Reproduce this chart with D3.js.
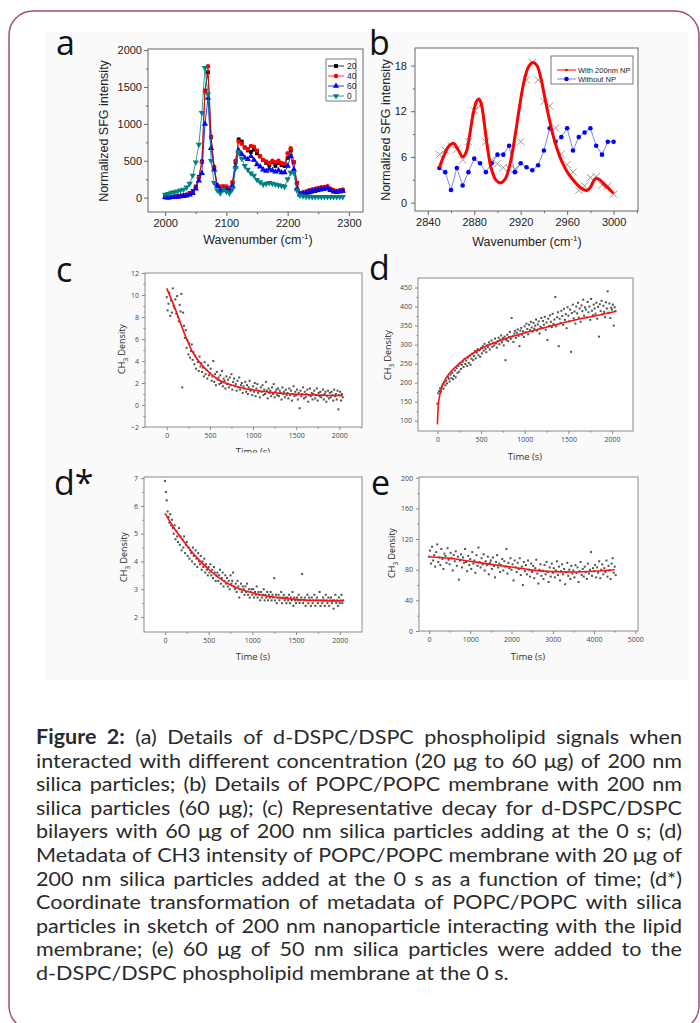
<!DOCTYPE html>
<html>
<head>
<meta charset="utf-8">
<script src="https://cdn.jsdelivr.net/npm/d3@7"></script>
<style>
  body { margin: 0; background: #fff; }
  #wrap { width: 700px; height: 1023px; overflow: hidden; }
</style>
</head>
<body>
<div id="wrap"></div>
<script>
// ---- panel a: SFG spectra, 2000-2290 cm-1 every 5 cm-1
var wnA = d3.range(2000, 2291, 5);
var spec20 = [10,5,10,15,20,25,30,40,60,90,150,280,490,1450,1700,820,400,160,140,150,140,120,200,480,790,760,680,640,620,650,600,560,510,470,440,480,430,470,440,430,540,640,480,200,60,50,60,70,80,90,100,110,120,130,110,90,80,90,95];
var spec40 = [0,0,5,10,15,20,25,35,50,80,140,270,480,1440,1780,830,420,170,150,150,150,130,210,500,760,730,680,660,700,690,640,560,510,490,470,500,480,500,470,460,600,670,480,190,50,70,80,100,110,120,130,140,145,155,120,100,90,100,105];
var spec60 = [5,0,5,10,10,15,20,25,40,60,120,230,330,1000,1350,670,380,160,100,100,110,90,160,420,640,590,540,520,560,510,450,420,380,360,390,370,350,370,340,340,430,560,380,120,40,60,70,80,90,100,110,115,120,125,100,80,75,80,90];
var spec0 = [40,50,70,75,85,100,110,140,190,300,480,720,1150,1760,1400,500,200,100,60,110,80,60,120,400,620,530,430,380,330,300,240,210,180,190,200,190,180,170,160,150,250,340,340,100,30,20,15,15,10,10,10,10,10,10,10,10,10,10,10];
var seriesA = ["20", "40", "60", "0"];

// ---- panel b: 2850-3000 cm-1 every 5 cm-1
var wnB = d3.range(2850, 3001, 5);
var withNP = [6.3,6.9,7.5,7.0,5.6,8.0,12.1,12.7,8.0,5.6,5.1,4.6,4.5,4.4,8.0,16.1,18.4,16.1,13.3,12.7,9.8,6.4,5.0,4.0,1.6,2.2,3.3,3.4,2.3,2.2,1.1];
var withoutNP = [4.55,4.0,1.65,4.55,2.25,4.0,5.77,5.16,4.0,5.16,6.3,6.3,7.46,4.0,5.16,4.64,4.25,4.9,6.85,9.76,8.0,8.6,9.76,6.85,8.6,9.2,9.76,7.46,6.3,8.0,8.0];
var fitBx = [2850,2854,2858,2862,2866,2870,2873,2876,2879,2882,2884,2886,2889,2892,2895,2899,2903,2907,2911,2915,2919,2923,2927,2931,2934,2937,2941,2945,2949,2953,2957,2961,2965,2969,2973,2977,2980,2983,2985,2988,2992,2996,3000];
var fitBy = [4.6,6.2,7.4,7.8,7.0,6.0,6.6,8.8,11.6,13.3,13.6,13.0,10.0,6.6,4.3,2.9,2.6,3.2,5.2,8.6,12.6,16.0,17.9,18.4,18.0,16.6,13.6,10.7,8.2,6.3,4.9,3.8,3.0,2.3,1.8,1.6,2.0,2.9,3.2,3.0,2.4,1.8,1.2];

// ---- panels c, d, d*: one reading every 10 s from 0 to 2040 s
var tShort = d3.range(0, 2041, 10);
var densC = [9.8,8.6,9.2,10.2,8.1,9.5,8.4,10.6,9.0,8.8,
  9.6,8.3,9.9,8.0,7.6,9.1,8.5,10.1,1.6,8.4,
  7.2,6.1,6.8,5.2,5.9,4.6,5.6,4.3,4.9,5.5,
  4.1,4.8,3.7,4.5,3.3,4.2,3.9,3.1,4.4,3.5,
  3.8,3.0,3.4,2.6,3.9,2.8,3.2,2.4,3.6,2.7,
  2.9,3.3,2.2,2.6,4.0,2.1,2.8,1.8,3.0,2.3,
  2.5,1.9,2.7,2.0,3.1,1.7,2.4,2.2,1.5,2.6,
  1.9,2.3,1.6,2.5,1.8,2.8,1.4,2.1,2.4,1.7,
  1.9,1.3,2.2,1.6,2.5,1.4,1.8,2.0,1.1,1.7,
  1.5,2.1,1.2,1.8,1.0,1.6,2.2,1.3,1.4,0.9,
  1.7,1.2,2.0,0.8,1.5,1.9,1.1,1.3,0.7,1.6,
  1.2,1.8,0.9,1.4,1.0,2.1,1.3,0.6,1.5,1.1,
  1.3,0.8,1.6,1.0,1.9,0.7,1.2,1.4,0.9,1.5,
  0.8,1.3,1.1,0.5,1.6,1.0,1.2,0.7,1.4,0.9,
  1.1,0.6,1.5,0.9,1.3,0.4,1.0,1.7,0.8,1.2,
  0.9,1.4,0.5,1.1,-0.3,1.3,0.8,1.0,1.6,0.6,
  1.2,0.7,1.0,1.4,0.3,0.9,1.5,0.8,1.1,0.5,
  1.0,1.3,0.6,0.9,1.5,0.4,1.1,0.8,1.2,0.7,
  0.9,1.4,0.5,1.0,1.2,0.3,0.8,1.3,0.6,1.1,
  0.7,1.2,0.9,0.4,1.4,0.8,1.0,0.5,1.3,-0.4,
  0.9,1.2,0.4,1.0,0.7];
var fitCx = [0,100,200,300,400,500,600,700,800,900,1000,1100,1200,1300,1400,1500,1600,1700,1800,1900,2040];
var fitCy = [10.6,8.7,6.6,4.8,3.7,2.9,2.3,1.95,1.7,1.5,1.38,1.25,1.15,1.08,1.02,0.97,0.94,0.91,0.89,0.87,0.85];

var densD = [145,172,178,185,176,190,196,184,200,193,
  205,198,215,210,203,221,212,226,209,218,
  232,214,238,226,244,229,250,236,247,255,
  241,262,249,258,244,266,252,271,247,263,
  276,259,270,283,264,279,288,272,285,268,
  291,277,296,284,302,288,280,298,293,306,
  287,301,311,294,305,298,316,303,292,309,
  318,301,313,324,306,317,298,321,259,312,
  326,309,320,333,315,370,322,307,329,336,
  318,331,340,323,296,337,344,326,335,320,
  348,332,355,341,327,352,338,360,345,334,
  357,342,350,366,337,353,361,329,347,370,
  344,362,352,373,339,358,312,368,349,377,
  360,346,381,354,366,425,348,372,385,296,
  368,357,389,375,352,394,365,380,343,398,
  376,361,392,281,383,405,369,387,355,400,
  382,410,371,395,360,403,388,418,376,398,
  392,371,412,385,400,365,420,389,377,405,
  395,381,410,368,399,321,406,388,415,379,
  402,386,372,411,395,440,384,408,370,397,
  392,405,350,398,388];
var fitDx = [0,10,20,30,50,100,200,300,400,500,600,700,800,900,1000,1200,1400,1600,1800,2000,2040];
var fitDy = [90,140,158,170,188,212,240,260,276,289,300,309,317,324,331,343,355,366,375,385,387];

var densDs = [6.9,6.5,6.2,5.8,5.6,5.4,5.7,5.3,5.5,5.2,
  5.0,5.3,4.8,5.1,4.9,4.7,5.2,4.6,4.9,4.4,
  4.8,4.5,4.9,4.3,4.6,4.7,4.2,4.5,4.1,4.4,
  4.3,4.0,4.5,4.2,3.9,4.4,4.1,3.8,4.3,4.0,
  3.9,4.2,3.7,4.0,3.8,4.1,3.6,3.9,3.7,3.5,
  3.8,3.6,3.9,3.5,3.7,3.4,3.8,3.6,3.3,3.5,
  3.6,3.3,3.5,3.7,3.2,3.4,3.6,3.1,3.3,3.5,
  3.2,3.4,3.1,3.3,3.0,3.5,3.2,3.3,3.6,3.1,
  3.0,3.2,2.9,3.3,3.1,2.7,3.0,3.2,2.9,3.1,
  3.0,2.8,3.1,2.9,3.2,2.8,3.0,2.7,2.9,3.0,
  2.8,3.0,2.7,2.9,2.8,3.1,2.7,2.9,2.8,2.6,
  2.9,2.7,2.8,3.0,2.6,2.8,2.7,2.9,2.6,2.8,
  2.7,2.9,2.6,2.8,2.7,3.4,2.6,2.8,2.5,2.7,
  2.8,2.6,2.7,2.9,2.5,2.7,2.8,2.6,2.7,2.5,
  2.7,2.6,2.8,2.5,2.7,2.6,2.9,2.4,2.7,2.6,
  2.5,2.7,2.6,2.8,2.5,2.6,2.7,3.55,2.5,2.6,
  2.7,2.4,2.6,2.8,2.5,2.7,2.6,2.4,2.7,2.5,
  2.6,2.8,2.4,2.6,2.7,2.5,2.6,2.9,2.4,2.6,
  2.5,2.7,2.6,2.4,2.8,2.6,2.5,2.7,2.4,2.6,
  2.7,2.5,2.6,2.3,2.6,2.8,2.5,2.6,2.4,2.7,
  2.5,2.6,2.8,2.5,2.6];
var fitDsx = [0,100,200,300,400,500,600,700,800,900,1000,1200,1400,1600,1800,2040];
var fitDsy = [5.73,5.22,4.78,4.38,4.02,3.72,3.45,3.24,3.08,2.96,2.87,2.74,2.66,2.61,2.59,2.58];

// ---- panel e: one reading every 25 s from 0 to 4525 s
var tLong = d3.range(0, 4526, 25);
var densE = [97,105,88,110,92,99,84,103,113,90,
  96,86,107,94,81,101,98,89,108,93,
  87,102,95,79,99,91,104,85,97,67,
  92,100,83,96,89,107,90,78,98,86,
  94,81,103,88,92,76,99,85,109,90,
  83,95,87,100,79,91,86,97,74,89,
  92,81,96,85,70,90,99,83,88,77,
  86,94,79,91,84,107,75,89,82,95,
  80,87,66,92,83,77,89,81,95,73,
  84,60,90,78,86,74,92,80,71,88,
  77,85,69,82,93,75,62,80,87,72,
  79,68,86,74,90,77,64,83,71,88,
  76,82,70,79,91,73,84,66,78,87,
  74,81,61,77,89,72,80,68,85,75,
  79,70,86,76,83,64,78,90,73,81,
  71,84,77,68,88,75,80,103,72,82,
  78,86,70,83,76,91,69,80,87,74,
  82,77,92,71,85,79,68,88,95,76,
  84,73];
var fitEx = [0,500,1000,1500,2000,2500,3000,3500,4000,4500];
var fitEy = [97,95,91,87,83.5,79.5,77.5,77,78,80];

var captionLines = [
  "Figure 2: (a) Details of d-DSPC/DSPC phospholipid signals when",
  "interacted with different concentration (20 μg to 60 μg) of 200 nm",
  "silica particles; (b) Details of POPC/POPC membrane with 200 nm",
  "silica particles (60 μg); (c) Representative decay for d-DSPC/DSPC",
  "bilayers with 60 μg of 200 nm silica particles adding at the 0 s; (d)",
  "Metadata of CH3 intensity of POPC/POPC membrane with 20 μg of",
  "200 nm silica particles added at the 0 s as a function of time; (d*)",
  "Coordinate transformation of metadata of POPC/POPC with silica",
  "particles in sketch of 200 nm nanoparticle interacting with the lipid",
  "membrane; (e) 60 μg of 50 nm silica particles were added to the",
  "d-DSPC/DSPC phospholipid membrane at the 0 s."
];

var svg = d3.select("#wrap").append("svg")
    .attr("width", 700)
    .attr("height", 1023);

var arial = "'Liberation Sans', Arial, sans-serif",
    calib = "'Open Sans', 'Noto Sans', sans-serif";

// figure frame
svg.append("rect")
    .attr("x", 45).attr("y", 32).attr("width", 643).attr("height", 648)
    .attr("fill", "#fafafa");
svg.append("rect")
    .attr("x", 9).attr("y", 11).attr("width", 690).attr("height", 1019)
    .attr("rx", 24)
    .attr("fill", "none").attr("stroke", "#a24b7e").attr("stroke-width", 1.5);

var clipCount = 0;
function makePanel(box, xDom, yDom) {
  var x = d3.scaleLinear().domain(xDom).range([box[0], box[2]]),
      y = d3.scaleLinear().domain(yDom).range([box[3], box[1]]);
  var g = svg.append("g");
  g.append("rect")
      .attr("x", box[0]).attr("y", box[1])
      .attr("width", box[2] - box[0]).attr("height", box[3] - box[1])
      .attr("fill", "#fff");
  var id = "clip" + (clipCount++);
  svg.append("clipPath").attr("id", id).append("rect")
      .attr("x", box[0]).attr("y", box[1])
      .attr("width", box[2] - box[0]).attr("height", box[3] - box[1]);
  var plot = g.append("g").attr("clip-path", "url(#" + id + ")");
  return {x: x, y: y, g: g, plot: plot, box: box};
}

function drawAxes(p, s) {
  var b = p.box;
  var fmtY = s.yFmt || d3.format("d");
  var parts = [
    p.g.append("g").attr("transform", "translate(0," + b[3] + ")")
      .call(d3.axisBottom(p.x).tickValues(s.xMajor).tickSize(s.tick).tickSizeOuter(0)
        .tickPadding(s.pad).tickFormat(d3.format("d"))),
    p.g.append("g").attr("transform", "translate(0," + b[3] + ")")
      .call(d3.axisBottom(p.x).tickValues(s.xMinor).tickSize(s.tick * 0.55).tickSizeOuter(0).tickFormat("")),
    p.g.append("g").attr("transform", "translate(" + b[0] + ",0)")
      .call(d3.axisLeft(p.y).tickValues(s.yMajor).tickSize(s.tick).tickSizeOuter(0)
        .tickPadding(s.padY || s.pad).tickFormat(fmtY)),
    p.g.append("g").attr("transform", "translate(" + b[0] + ",0)")
      .call(d3.axisLeft(p.y).tickValues(s.yMinor).tickSize(s.tick * 0.55).tickSizeOuter(0).tickFormat(""))
  ];
  parts.forEach(function(a) {
    a.attr("font-family", s.font).attr("font-size", s.fs);
    a.select(".domain").remove();
    a.selectAll("line").attr("stroke", s.frame);
    a.selectAll("text").attr("fill", s.tc);
  });
  p.g.append("rect")
      .attr("x", b[0]).attr("y", b[1])
      .attr("width", b[2] - b[0]).attr("height", b[3] - b[1])
      .attr("fill", "none").attr("stroke", s.frame).attr("stroke-width", 1);
}

function letter(txt, x, y) {
  svg.append("text").attr("x", x).attr("y", y)
      .attr("font-family", calib).attr("font-size", 34).attr("fill", "#111")
      .text(txt);
}

function yTitle(x, yc, font, size, parts) {
  var t = svg.append("text")
      .attr("transform", "translate(" + x + "," + yc + ") rotate(-90)")
      .attr("text-anchor", "middle")
      .attr("font-family", font).attr("font-size", size).attr("fill", "#222");
  parts(t);
}

function wavenumberTitle(x, y) {
  var t = svg.append("text").attr("x", x).attr("y", y)
      .attr("text-anchor", "middle")
      .attr("font-family", arial).attr("font-size", 12.5).attr("fill", "#222");
  t.append("tspan").text("Wavenumber (cm");
  t.append("tspan").attr("font-size", 8).attr("dy", -5).text("-1");
  t.append("tspan").attr("dy", 5).text(")");
}

function chTitle(t) {
  t.append("tspan").text("CH");
  t.append("tspan").attr("font-size", 6.5).attr("dy", 2.5).text("3");
  t.append("tspan").attr("dy", -2.5).text(" Density");
}

// ================= panel a =================
var pa = makePanel([148, 49, 363, 212], [1972, 2323], [-195, 2015]);
var colorsA = ["#000000", "#ff0000", "#0000ff", "#008080"];
var symA = [
  d3.symbol().type(d3.symbolSquare).size(15),
  d3.symbol().type(d3.symbolCircle).size(16),
  d3.symbol().type(d3.symbolTriangle).size(17),
  d3.symbol().type(d3.symbolTriangle).size(17)
];
[spec20, spec40, spec60, spec0].forEach(function(vals, i) {
  var pts = d3.zip(wnA, vals);
  pa.plot.append("path").datum(pts)
      .attr("fill", "none").attr("stroke", colorsA[i]).attr("stroke-width", 0.8)
      .attr("d", d3.line().x(function(d) { return pa.x(d[0]); }).y(function(d) { return pa.y(d[1]); }));
  pa.plot.selectAll(".m" + i).data(pts).enter().append("path")
      .attr("transform", function(d) {
        return "translate(" + pa.x(d[0]) + "," + pa.y(d[1]) + ")" + (i === 3 ? " rotate(180)" : "");
      })
      .attr("d", symA[i]).attr("fill", colorsA[i]);
});
drawAxes(pa, {
  xMajor: [2000, 2100, 2200, 2300], xMinor: [2050, 2150, 2250],
  yMajor: [0, 500, 1000, 1500, 2000], yMinor: [250, 750, 1250, 1750],
  tick: 4, pad: 3, padY: 2, font: arial, fs: 11, tc: "#222", frame: "#666"
});
// legend a
var lga = svg.append("g").attr("font-family", arial).attr("font-size", 8.5);
lga.append("rect").attr("x", 326).attr("y", 59).attr("width", 30).attr("height", 42)
    .attr("fill", "#fff").attr("stroke", "#555").attr("stroke-width", 0.8);
seriesA.forEach(function(name, i) {
  var yy = 66 + i * 10;
  lga.append("line").attr("x1", 328).attr("x2", 344).attr("y1", yy).attr("y2", yy)
      .attr("stroke", colorsA[i]).attr("stroke-width", 0.8);
  lga.append("path").attr("transform", "translate(336," + yy + ")" + (i === 3 ? " rotate(180)" : ""))
      .attr("d", symA[i]).attr("fill", colorsA[i]);
  lga.append("text").attr("x", 347).attr("y", yy + 3).attr("fill", "#222").text(name);
});
yTitle(108, 131, arial, 12.5, function(t) { t.text("Normalized SFG intensity"); });
wavenumberTitle(258, 244);
letter("a", 56, 55);

// ================= panel b =================
var pb = makePanel([415, 48, 638, 211], [2829, 3021], [-1.1, 20.3]);
var ptsNP = d3.zip(wnB, withNP), ptsNo = d3.zip(wnB, withoutNP);
pb.plot.selectAll(".gx").data(ptsNP).enter().append("path")
    .attr("transform", function(d) { return "translate(" + pb.x(d[0]) + "," + pb.y(d[1]) + ")"; })
    .attr("d", d3.symbol().type(d3.symbolX).size(36))
    .attr("fill", "none").attr("stroke", "#9a9a9a").attr("stroke-width", 1);
pb.plot.append("path").datum(ptsNo)
    .attr("fill", "none").attr("stroke", "#7b86ff").attr("stroke-width", 1)
    .attr("d", d3.line().x(function(d) { return pb.x(d[0]); }).y(function(d) { return pb.y(d[1]); }));
pb.plot.selectAll(".bd").data(ptsNo).enter().append("circle")
    .attr("cx", function(d) { return pb.x(d[0]); })
    .attr("cy", function(d) { return pb.y(d[1]); })
    .attr("r", 2.3).attr("fill", "#0000ff");
pb.plot.append("path").datum(d3.zip(fitBx, fitBy))
    .attr("fill", "none").attr("stroke", "#ff0000").attr("stroke-width", 3)
    .attr("d", d3.line().curve(d3.curveCatmullRom)
      .x(function(d) { return pb.x(d[0]); }).y(function(d) { return pb.y(d[1]); }));
drawAxes(pb, {
  xMajor: [2840, 2880, 2920, 2960, 3000], xMinor: [2860, 2900, 2940, 2980, 3020],
  yMajor: [0, 6, 12, 18], yMinor: [3, 9, 15],
  tick: 4, pad: 3, padY: 4, font: arial, fs: 11, tc: "#222", frame: "#666"
});
var lgb = svg.append("g").attr("font-family", arial).attr("font-size", 7.5);
lgb.append("rect").attr("x", 551).attr("y", 56).attr("width", 82).attr("height", 28)
    .attr("fill", "#fff").attr("stroke", "#555").attr("stroke-width", 0.8);
lgb.append("line").attr("x1", 557).attr("x2", 576).attr("y1", 70).attr("y2", 70)
    .attr("stroke", "#ff0000").attr("stroke-width", 1);
lgb.append("circle").attr("cx", 566.5).attr("cy", 70).attr("r", 1.3).attr("fill", "#ff0000");
lgb.append("text").attr("x", 578).attr("y", 72.5).attr("fill", "#222").text("With 200nm NP");
lgb.append("line").attr("x1", 557).attr("x2", 576).attr("y1", 79).attr("y2", 79)
    .attr("stroke", "#7b86ff").attr("stroke-width", 1);
lgb.append("circle").attr("cx", 566.5).attr("cy", 79).attr("r", 2.3).attr("fill", "#0000ff");
lgb.append("text").attr("x", 578).attr("y", 81.5).attr("fill", "#222").text("Without NP");
yTitle(390, 130, arial, 12.5, function(t) { t.text("Normalized SFG intensity"); });
wavenumberTitle(527, 246);
letter("b", 369, 55);

// ================= kinetics panels =================
function kinetics(box, xDom, yDom, times, vals, fx, fy, ax) {
  var p = makePanel(box, xDom, yDom);
  p.plot.selectAll(".pt").data(d3.zip(times, vals)).enter().append("rect")
      .attr("x", function(d) { return p.x(d[0]) - 1; })
      .attr("y", function(d) { return p.y(d[1]) - 1; })
      .attr("width", 2).attr("height", 2)
      .attr("fill", "#333").attr("opacity", 0.85);
  p.plot.append("path").datum(d3.zip(fx, fy))
      .attr("fill", "none").attr("stroke", "#ff1010").attr("stroke-width", 1.6)
      .attr("d", d3.line().curve(d3.curveMonotoneX)
        .x(function(d) { return p.x(d[0]); }).y(function(d) { return p.y(d[1]); }));
  ax.tick = 3; ax.pad = 3; ax.font = calib; ax.fs = 7; ax.tc = "#444"; ax.frame = "#8a8a8a";
  drawAxes(p, ax);
  return p;
}

function timeTitle(x, y, clipY) {
  var t = svg.append("text").attr("x", x).attr("y", y)
      .attr("text-anchor", "middle")
      .attr("font-family", calib).attr("font-size", 9.5).attr("fill", "#333")
      .text("Time (s)");
  if (clipY) {
    svg.append("clipPath").attr("id", "tclip").append("rect")
        .attr("x", 0).attr("y", 0).attr("width", 700).attr("height", clipY);
    t.attr("clip-path", "url(#tclip)");
  }
}

// c
kinetics([145, 273, 362, 427], [-252, 2263], [-2, 12], tShort, densC, fitCx, fitCy, {
  xMajor: [0, 500, 1000, 1500, 2000], xMinor: [250, 750, 1250, 1750, 2250],
  yMajor: d3.range(-2, 13, 2), yMinor: d3.range(-1, 12, 2)
});
yTitle(125, 349, calib, 9, chTitle);
timeTitle(253, 455, 452.5);
letter("c", 56, 282);

// d
kinetics([418, 278, 633, 431], [-222, 2240], [73, 475], tShort, densD, fitDx, fitDy, {
  xMajor: [0, 500, 1000, 1500, 2000], xMinor: [250, 750, 1250, 1750],
  yMajor: d3.range(100, 451, 50), yMinor: d3.range(125, 451, 50)
});
yTitle(391, 355, calib, 9, chTitle);
timeTitle(525, 460);
letter("d", 369, 280);

// d*
kinetics([144, 477, 362, 632], [-240, 2255], [1.46, 7.04], tShort, densDs, fitDsx, fitDsy, {
  xMajor: [0, 500, 1000, 1500, 2000], xMinor: [250, 750, 1250, 1750],
  yMajor: [2, 3, 4, 5, 6, 7], yMinor: [2.5, 3.5, 4.5, 5.5, 6.5]
});
yTitle(127, 557, calib, 9, chTitle);
timeTitle(253, 660);
letter("d*", 54, 495);

// e
kinetics([419, 477, 638, 631], [-242, 5065], [0, 201], tLong, densE, fitEx, fitEy, {
  xMajor: [0, 1000, 2000, 3000, 4000, 5000], xMinor: [500, 1500, 2500, 3500, 4500],
  yMajor: [0, 40, 80, 120, 160, 200], yMinor: [20, 60, 100, 140, 180]
});
yTitle(395, 553, calib, 9, chTitle);
timeTitle(528, 660);
letter("e", 371, 495);

// ================= caption =================
var capLeft = 36, capWidth = 646, capTop = 744, capLead = 23.6;
var cap = svg.append("g")
    .attr("font-family", "Lato, 'Open Sans', sans-serif")
    .attr("font-size", 20).attr("fill", "#2a2a2a");
function measure(str, bold) {
  var t = cap.append("text").attr("font-weight", bold ? 700 : 400).text(str);
  var w = t.node().getComputedTextLength();
  t.remove();
  return w;
}
var spaceW = measure("a a") - measure("aa");
var lineWords = captionLines.map(function(s, i) {
  return s.split(" ").map(function(w, j) {
    var bold = i === 0 && j < 2;
    return {w: w, bold: bold, len: measure(w, bold)};
  });
});
var natural = lineWords.map(function(ws) {
  return d3.sum(ws, function(o) { return o.len; }) + spaceW * (ws.length - 1);
});
var k = capWidth / d3.max(natural.slice(0, -1));
var inner = cap.append("g").attr("transform", "translate(" + capLeft + ",0) scale(" + k + ",1)");
lineWords.forEach(function(ws, i) {
  var last = i === lineWords.length - 1;
  var gap = last ? spaceW : (capWidth / k - d3.sum(ws, function(o) { return o.len; })) / (ws.length - 1);
  var cx = 0;
  var t = inner.append("text").attr("y", capTop + i * capLead);
  ws.forEach(function(o) {
    t.append("tspan").attr("x", cx).attr("font-weight", o.bold ? 700 : 400).text(o.w);
    cx += o.len + gap;
  });
});
</script>
</body>
</html>
